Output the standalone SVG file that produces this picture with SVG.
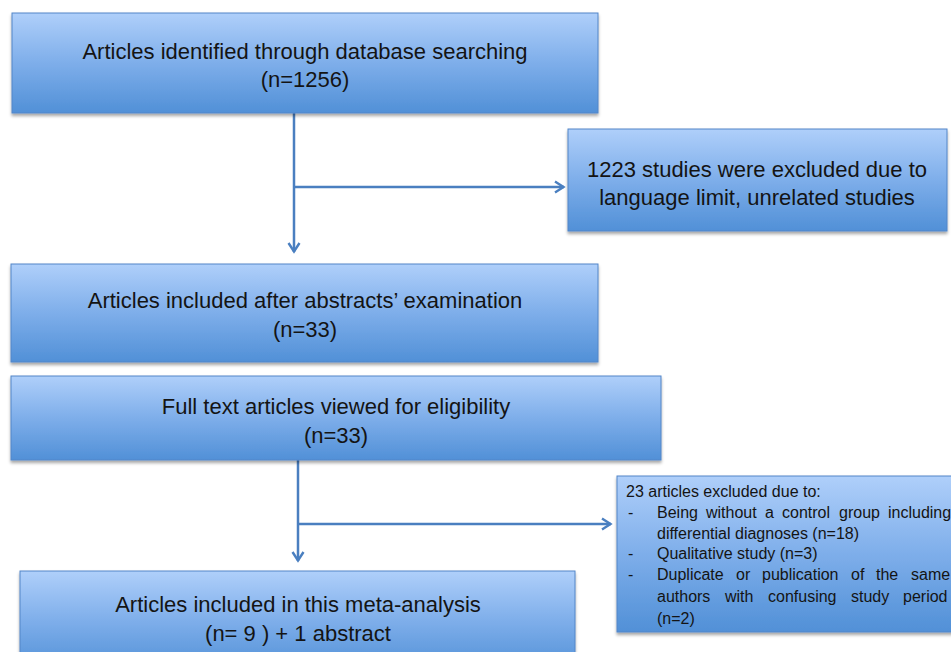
<svg xmlns="http://www.w3.org/2000/svg" width="951" height="652" viewBox="0 0 951 652">
  <defs>
    <linearGradient id="boxfill" x1="0" y1="0" x2="0" y2="1">
      <stop offset="0" stop-color="#afcffa"/>
      <stop offset="0.5" stop-color="#7eaeea"/>
      <stop offset="1" stop-color="#5190d7"/>
    </linearGradient>
    <filter id="shadow" x="-5%" y="-10%" width="110%" height="130%">
      <feDropShadow dx="0" dy="2.5" stdDeviation="1.5" flood-color="#000000" flood-opacity="0.35"/>
    </filter>
    <marker id="arrow" markerUnits="userSpaceOnUse" viewBox="0 0 12 14" markerWidth="12" markerHeight="14" refX="10.5" refY="7" orient="auto">
      <path d="M1.5,1.5 L10,7 L1.5,12.5" fill="none" stroke="#4a7fc0" stroke-width="2.4" stroke-linejoin="miter"/>
    </marker>
  </defs>
  <style>
    .box { fill: url(#boxfill); stroke: #5286c8; stroke-width: 1; filter: url(#shadow); }
    .big { font-family: "Liberation Sans", Arial, sans-serif; font-size: 22px; fill: #141414; text-anchor: middle; }
    .small { font-family: "Liberation Sans", Arial, sans-serif; font-size: 16px; fill: #141414; }
    .conn { stroke: #4a7fc0; stroke-width: 2.5; fill: none; }
  </style>
  <rect width="951" height="652" fill="#ffffff"/>

  <g id="connectors">
    <line class="conn" x1="294" y1="113" x2="294" y2="252" marker-end="url(#arrow)"/>
    <line class="conn" x1="294" y1="187" x2="564" y2="187" marker-end="url(#arrow)"/>
    <line class="conn" x1="298" y1="460" x2="298" y2="561" marker-end="url(#arrow)"/>
    <line class="conn" x1="298" y1="524" x2="611" y2="524" marker-end="url(#arrow)"/>
  </g>

  <g id="identified">
    <rect class="box" x="12" y="13" width="586" height="100"/>
    <text class="big" x="305" y="59">Articles identified through database searching</text>
    <text class="big" x="305" y="87">(n=1256)</text>
  </g>

  <g id="excluded1">
    <rect class="box" x="568" y="129" width="379" height="102"/>
    <text class="big" x="757" y="177">1223 studies were excluded due to</text>
    <text class="big" x="757" y="205">language limit, unrelated studies</text>
  </g>

  <g id="abstracts">
    <rect class="box" x="11" y="264" width="587" height="98"/>
    <text class="big" x="305" y="308">Articles included after abstracts’ examination</text>
    <text class="big" x="305" y="337">(n=33)</text>
  </g>

  <g id="fulltext">
    <rect class="box" x="11" y="376" width="650" height="84"/>
    <text class="big" x="336" y="414">Full text articles viewed for eligibility</text>
    <text class="big" x="336" y="443">(n=33)</text>
  </g>

  <g id="excluded2">
    <rect class="box" x="617" y="476" width="345" height="156"/>
    <text class="small" x="626" y="497">23 articles excluded due to:</text>
    <text class="small" x="628" y="518">-</text>
    <text class="small" y="518"><tspan x="657">Being</tspan><tspan x="706">without</tspan><tspan x="765">a</tspan><tspan x="782">control</tspan><tspan x="839">group</tspan><tspan x="888">including</tspan></text>
    <text class="small" x="657" y="539">differential diagnoses (n=18)</text>
    <text class="small" x="628" y="559">-</text>
    <text class="small" x="657" y="559">Qualitative study (n=3)</text>
    <text class="small" x="628" y="580">-</text>
    <text class="small" y="580"><tspan x="657">Duplicate</tspan><tspan x="736">or</tspan><tspan x="762">publication</tspan><tspan x="851">of</tspan><tspan x="876">the</tspan><tspan x="911">same</tspan></text>
    <text class="small" y="602"><tspan x="657">authors</tspan><tspan x="725">with</tspan><tspan x="768">confusing</tspan><tspan x="851">study</tspan><tspan x="903">period</tspan></text>
    <text class="small" x="657" y="624">(n=2)</text>
  </g>

  <g id="included">
    <rect class="box" x="20" y="571" width="555" height="100"/>
    <text class="big" x="298" y="612">Articles included in this meta-analysis</text>
    <text class="big" x="298" y="641">(n= 9 ) + 1 abstract</text>
  </g>
</svg>
